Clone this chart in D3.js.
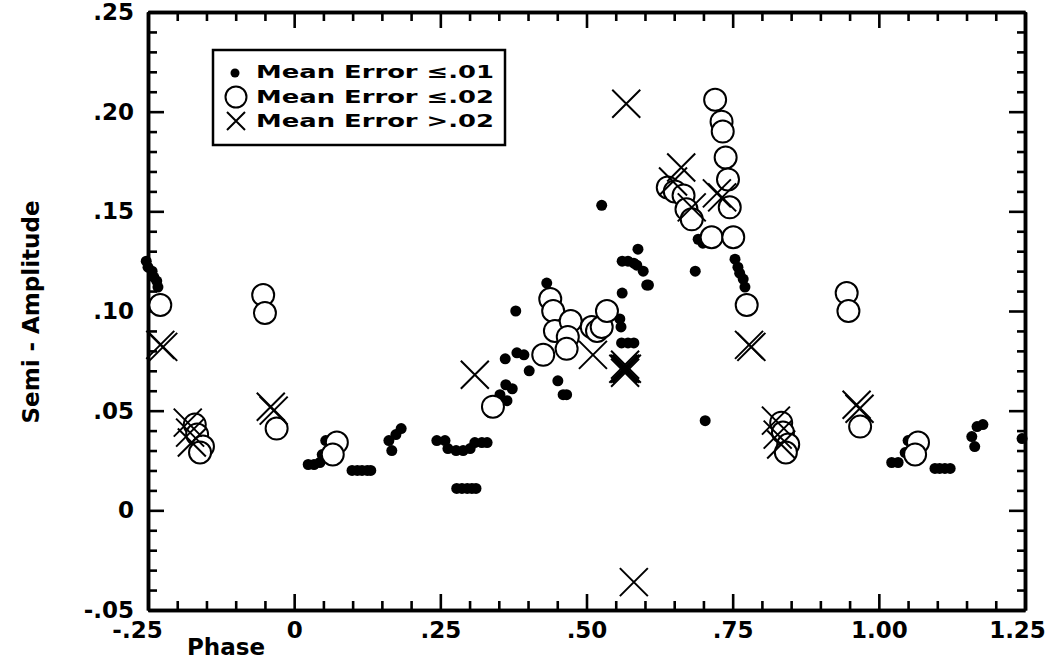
<!DOCTYPE html>
<html>
<head>
<meta charset="utf-8">
<script src="https://cdn.jsdelivr.net/npm/d3@7"></script>
<style>body { margin: 0; background: #fff; }</style>
</head>
<body>
<script>
// Mean Error <= .01 (filled dots): [phase, semi-amplitude]
var smallErr = [
  [-0.253,0.125],[-0.250,0.122],[-0.243,0.120],[-0.240,0.117],[-0.235,0.115],[-0.233,0.112],
  [0.024,0.023],[0.034,0.023],[0.044,0.024],[0.048,0.028],[0.054,0.035],
  [0.099,0.020],[0.108,0.020],[0.116,0.020],[0.125,0.020],[0.131,0.020],
  [0.162,0.035],[0.167,0.030],[0.174,0.038],[0.183,0.041],
  [0.244,0.035],[0.258,0.035],[0.263,0.031],[0.277,0.030],[0.289,0.030],[0.301,0.031],
  [0.309,0.034],[0.321,0.034],[0.330,0.034],
  [0.278,0.011],[0.287,0.011],[0.296,0.011],[0.304,0.011],[0.311,0.011],
  [0.335,0.049],[0.352,0.058],[0.362,0.063],[0.373,0.061],[0.364,0.055],[0.361,0.076],
  [0.379,0.100],[0.381,0.079],[0.393,0.078],[0.402,0.070],
  [0.432,0.114],[0.451,0.065],[0.460,0.058],[0.466,0.058],
  [0.506,0.094],[0.557,0.096],[0.559,0.092],[0.561,0.109],
  [0.560,0.084],[0.571,0.084],[0.581,0.084],
  [0.526,0.153],[0.588,0.131],[0.561,0.125],[0.571,0.125],[0.581,0.124],[0.586,0.123],
  [0.597,0.120],[0.603,0.113],[0.606,0.113],
  [0.686,0.120],[0.703,0.045],[0.691,0.136],[0.699,0.134],
  [0.754,0.126],[0.759,0.122],[0.762,0.119],[0.768,0.116],[0.771,0.112],
  [1.022,0.024],[1.033,0.024],[1.045,0.029],[1.050,0.035],
  [1.096,0.021],[1.104,0.021],[1.113,0.021],[1.122,0.021],
  [1.159,0.037],[1.168,0.042],[1.178,0.043],[1.164,0.032],
  [1.245,0.036]
];

// Mean Error <= .02 (open circles)
var midErr = [
  [-0.229,0.103],
  [-0.170,0.043],[-0.166,0.038],[-0.156,0.032],[-0.161,0.029],
  [-0.053,0.108],[-0.050,0.099],[-0.030,0.041],
  [0.073,0.034],[0.066,0.028],
  [0.340,0.052],
  [0.426,0.078],[0.438,0.106],[0.443,0.100],[0.446,0.090],[0.473,0.095],[0.468,0.087],[0.466,0.081],
  [0.509,0.092],[0.518,0.090],[0.526,0.092],[0.535,0.100],
  [0.639,0.162],[0.651,0.160],[0.666,0.158],[0.671,0.151],[0.680,0.146],
  [0.714,0.137],[0.751,0.137],
  [0.720,0.206],[0.731,0.195],[0.733,0.190],[0.738,0.177],[0.742,0.166],[0.745,0.152],
  [0.774,0.103],
  [0.833,0.044],[0.836,0.039],[0.845,0.033],[0.841,0.029],
  [0.945,0.109],[0.948,0.100],[0.968,0.042],
  [1.067,0.034],[1.062,0.028]
];

// Mean Error > .02 (crosses)
var largeErr = [
  [-0.224,0.082],[-0.229,0.083],
  [-0.182,0.044],[-0.178,0.039],[-0.175,0.034],
  [-0.040,0.052],[-0.035,0.050],
  [0.309,0.068],[0.511,0.078],
  [0.563,0.071],[0.566,0.071],[0.569,0.071],[0.566,0.069],[0.566,0.073],
  [0.568,0.204],[0.581,-0.036],
  [0.662,0.172],[0.648,0.165],[0.680,0.152],[0.723,0.159],[0.732,0.157],
  [0.782,0.082],[0.778,0.083],
  [0.824,0.045],[0.827,0.038],[0.833,0.033],
  [0.962,0.053],[0.967,0.051]
];

var xTicks = [-0.25, 0, 0.25, 0.5, 0.75, 1.0, 1.25];
var xTickLabels = ["-.25", "0", ".25", ".50", ".75", "1.00", "1.25"];
var yTicks = [-0.05, 0, 0.05, 0.10, 0.15, 0.20, 0.25];
var yTickLabels = ["-.05", "0", ".05", ".10", ".15", ".20", ".25"];
var legendLabels = ["Mean Error \u2264.01", "Mean Error \u2264.02", "Mean Error >.02"];

var width = 1052, height = 661;
var plotLeft = 148, plotRight = 1025, plotTop = 12, plotBottom = 610;
var fontFamily = "'DejaVu Sans', 'Liberation Sans', sans-serif";

var svg = d3.select("body").append("svg")
  .attr("width", width)
  .attr("height", height)
  .style("background", "#fff");

var x = d3.scaleLinear().domain([-0.25, 1.25]).range([plotLeft, plotRight]);
var y = d3.scaleLinear().domain([-0.05, 0.25]).range([plotBottom, plotTop]);

var xMinor = d3.range(-0.25, 1.2501, 0.05).filter(function(v) {
  return Math.abs(Math.round(v / 0.25) * 0.25 - v) > 1e-6;
});
var yMinor = d3.range(-0.05, 0.2501, 0.01).filter(function(v) {
  return Math.abs(Math.round(v / 0.05) * 0.05 - v) > 1e-6;
});

var styleAxis = function(g) {
  g.select(".domain").attr("stroke", "#000").attr("stroke-width", 3.5);
  g.selectAll(".tick line").attr("stroke", "#000").attr("stroke-width", 2.6);
  g.selectAll(".tick text")
    .attr("fill", "#000")
    .attr("font-family", fontFamily)
    .attr("font-weight", "bold")
    .attr("font-size", 23);
};

// minor ticks on all four sides
svg.append("g").attr("transform", "translate(0," + plotBottom + ")")
  .call(d3.axisBottom(x).tickValues(xMinor).tickSize(-9).tickSizeOuter(0).tickFormat(""))
  .call(styleAxis);
svg.append("g").attr("transform", "translate(0," + plotTop + ")")
  .call(d3.axisTop(x).tickValues(xMinor).tickSize(-9).tickSizeOuter(0).tickFormat(""))
  .call(styleAxis);
svg.append("g").attr("transform", "translate(" + plotLeft + ",0)")
  .call(d3.axisLeft(y).tickValues(yMinor).tickSize(-9).tickSizeOuter(0).tickFormat(""))
  .call(styleAxis);
svg.append("g").attr("transform", "translate(" + plotRight + ",0)")
  .call(d3.axisRight(y).tickValues(yMinor).tickSize(-8).tickSizeOuter(0).tickFormat(""))
  .call(styleAxis);

// major ticks with labels
svg.append("g").attr("transform", "translate(0," + plotBottom + ")")
  .call(d3.axisBottom(x).tickValues(xTicks).tickSize(-16).tickSizeOuter(0).tickPadding(12)
    .tickFormat(function(d, i) { return xTickLabels[i]; }))
  .call(styleAxis)
  .selectAll(".tick text")
    .attr("dx", function(d, i) { return i === 0 ? -11 : (i === xTicks.length - 1 ? -8 : 0); });
svg.append("g").attr("transform", "translate(0," + plotTop + ")")
  .call(d3.axisTop(x).tickValues(xTicks).tickSize(-16).tickSizeOuter(0).tickFormat(""))
  .call(styleAxis);
svg.append("g").attr("transform", "translate(" + plotLeft + ",0)")
  .call(d3.axisLeft(y).tickValues(yTicks).tickSize(-16).tickSizeOuter(0).tickPadding(14)
    .tickFormat(function(d, i) { return yTickLabels[i]; }))
  .call(styleAxis);
svg.append("g").attr("transform", "translate(" + plotRight + ",0)")
  .call(d3.axisRight(y).tickValues(yTicks).tickSize(-16).tickSizeOuter(0).tickFormat(""))
  .call(styleAxis);

// axis titles
svg.append("text")
  .attr("x", 187).attr("y", 655)
  .attr("font-family", fontFamily).attr("font-weight", "bold").attr("font-size", 23)
  .text("Phase");
svg.append("text")
  .attr("transform", "translate(39,312) rotate(-90)")
  .attr("text-anchor", "middle")
  .attr("font-family", fontFamily).attr("font-weight", "bold").attr("font-size", 23)
  .text("Semi - Amplitude");

// markers
var plot = svg.append("g");
var crossPath = function(h) {
  return "M" + (-h) + "," + (-h) + "L" + h + "," + h + "M" + (-h) + "," + h + "L" + h + "," + (-h);
};

plot.selectAll("circle.dot")
  .data(smallErr)
  .enter().append("circle")
    .classed("dot", true)
    .attr("cx", function(d) { return x(d[0]); })
    .attr("cy", function(d) { return y(d[1]); })
    .attr("r", 5.5)
    .attr("fill", "#000");

plot.selectAll("circle.ring")
  .data(midErr)
  .enter().append("circle")
    .classed("ring", true)
    .attr("cx", function(d) { return x(d[0]); })
    .attr("cy", function(d) { return y(d[1]); })
    .attr("r", 11)
    .attr("fill", "#fff")
    .attr("stroke", "#000")
    .attr("stroke-width", 2);

plot.selectAll("path.cross")
  .data(largeErr)
  .enter().append("path")
    .classed("cross", true)
    .attr("transform", function(d) { return "translate(" + x(d[0]) + "," + y(d[1]) + ")"; })
    .attr("d", crossPath(14))
    .attr("fill", "none")
    .attr("stroke", "#000")
    .attr("stroke-width", 2);

// legend
var legend = svg.append("g");
legend.append("rect")
  .attr("x", 213).attr("y", 50).attr("width", 292).attr("height", 95)
  .attr("fill", "#fff").attr("stroke", "#000").attr("stroke-width", 2.5);
legend.append("circle").attr("cx", 235).attr("cy", 73).attr("r", 4.5).attr("fill", "#000");
legend.append("circle").attr("cx", 236).attr("cy", 97).attr("r", 10.5)
  .attr("fill", "#fff").attr("stroke", "#000").attr("stroke-width", 2);
legend.append("path").attr("transform", "translate(236,121)").attr("d", crossPath(9))
  .attr("fill", "none").attr("stroke", "#000").attr("stroke-width", 2);
legend.selectAll("text.legend-label")
  .data(legendLabels)
  .enter().append("text")
    .classed("legend-label", true)
    .attr("x", 256)
    .attr("y", function(d, i) { return 78 + i * 24.5; })
    .attr("font-family", fontFamily).attr("font-weight", "bold").attr("font-size", 18)
    .attr("textLength", 238)
    .attr("lengthAdjust", "spacingAndGlyphs")
    .text(function(d) { return d; });
</script>
</body>
</html>
